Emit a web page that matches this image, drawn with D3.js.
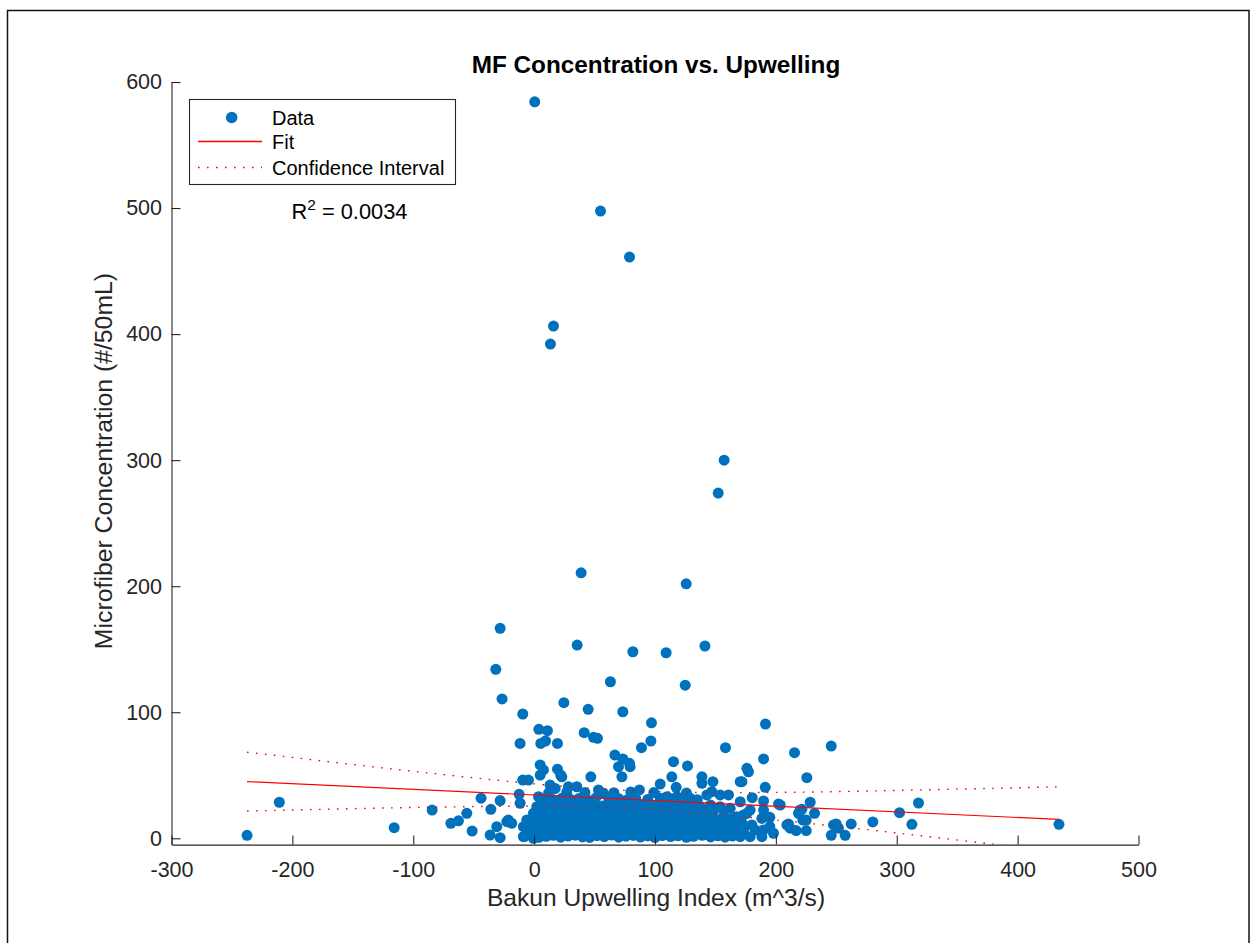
<!DOCTYPE html>
<html>
<head>
<meta charset="utf-8">
<script src="https://cdn.jsdelivr.net/npm/d3@7"></script>
<style>
  body { margin: 0; background: #fff; }
  text { font-family: "Liberation Sans", Arial, Helvetica, sans-serif; fill: #000; }
</style>
</head>
<body>
<svg id="chart" width="1254" height="943"></svg>
<script>
// ---- axis ticks ----
const xTicks = [-300, -200, -100, 0, 100, 200, 300, 400, 500];
const xTickLabels = ["-300", "-200", "-100", "0", "100", "200", "300", "400", "500"];
const yTicks = [0, 100, 200, 300, 400, 500, 600];
const yTickLabels = ["0", "100", "200", "300", "400", "500", "600"];

// ---- observations: [upwelling index, microfiber concentration] ----
const highPoints = [
  [0.5, 584.3], [54.9, 497.6], [78.9, 461.1], [16, 406.4], [13.5, 392.1],
  [157.2, 300.0], [152.3, 273.9], [38.9, 210.6], [125.8, 201.9], [-28.1, 166.6],
  [35.6, 153.3], [81.7, 148.0], [109.2, 147.2], [141.3, 152.5], [-31.7, 134.1],
  [63.1, 124.2], [125, 121.5], [-26.5, 110.6], [24.6, 107.6], [-9.4, 98.6],
  [44.7, 102.3], [73.4, 100.4], [97.1, 91.6], [191.4, 90.6]
];
const midPoints = [
  [3.9, 86.5], [11, 85.4], [41.4, 83.8], [49.1, 80.1], [52.4, 79.3],
  [-11.6, 75.3], [5.5, 75.3], [9.4, 77.2], [19.3, 75.3], [88.8, 71.9],
  [96.6, 77.2], [158.3, 71.9], [189.8, 63.0], [5, 58.2], [7.7, 54.2],
  [66.8, 66.0], [73.4, 62.9], [78.9, 59.5], [79.4, 56.8], [69.8, 56.8],
  [72.6, 48.8], [115.3, 60.8], [126.9, 57.4], [19.3, 54.8], [22, 50.2],
  [46.9, 48.8], [113.9, 48.8], [176, 55.5], [177.3, 52.8], [171.9, 44.9],
  [191.2, 40.4], [138.8, 48.8], [147.9, 44.9], [104.3, 43.0], [117.5, 40.4],
  [87.1, 38.4], [-9.4, 46.2], [-4.7, 46.2], [215.4, 67.9], [245.8, 73.2],
  [225.6, 48.1], [138.8, 43.6], [170.5, 44.9], [5, 50.2], [22.9, 48.8],
  [13.2, 42.2], [17.4, 39.6], [28.4, 40.9], [35.3, 40.9], [53.2, 38.4], [57.4, 35.7]
];
const sidePoints = [
  [-43.9, 31.8], [-28.1, 29.9], [-35.8, 23.0], [-55.7, 19.8], [-62.6, 13.9],
  [-68.9, 11.9], [-51.3, 5.8], [-30.9, 9.2], [-36.4, 2.6], [-28.1, 0.5],
  [-21.3, 14.5], [-18.5, 11.9], [-237.5, 2.4], [-210.8, 28.6], [-115.8, 8.4],
  [-84.4, 22.4], [-12.4, 34.9], [-11.6, 27.8], [-22.6, 13.2], [-8.9, 9.2],
  [-3.3, 4], [-8.9, 1.3], [-0.6, 0], [-6.1, 14.5], [-0.6, 19.8], [2.2, 25.1], [3.6, 33.0],
  [202.2, 27.2], [209.1, 10.6], [228.4, 28.6], [232, 19.8], [221.5, 23.0],
  [218.7, 19.8], [222.3, 14.5], [225.1, 14.5], [210.4, 11.4], [211.8, 8],
  [216.8, 6.1], [225.1, 6.1], [203.6, 26.4], [249.9, 11.4], [251.8, 8],
  [245.8, 2.4], [257.3, 2.4], [262.3, 11.4], [280.2, 13], [302.3, 20.3],
  [318, 28.0], [312.5, 11.1], [434.2, 11.1], [180.4, 32.2], [189.8, 29.6],
  [170.5, 29.0], [178.7, 22.4], [176, 19.8], [189.8, 22.4], [188.4, 15.8],
  [195, 16.6], [220.1, 22.4], [247.7, 10.6], [173.2, 18.5], [171.9, 12],
  [173.2, 6.6], [170.5, 1.3], [180.1, 10.6], [182.9, 6.6], [178.7, 1.3],
  [189.8, 6.6], [188.4, 1.3], [195, 9.2], [198, 4]
];
const clusterPoints = [
  [104.3, 31.8], [109.8, 33.0], [118.1, 33.0], [129.1, 31.8], [123.5, 29.0],
  [142.9, 34.4], [147, 37.0], [153.9, 34.4], [160.8, 34.4], [137.4, 25.1],
  [142.9, 22.4], [138.8, 18.5], [153.9, 25.1], [162.2, 23.8], [167.7, 17.1],
  [91.8, 25.1], [97.4, 26.4], [101.5, 22.4]
];
const bandPoints = [
  [-8, 1.4], [-2, 2.2], [4, 0.8], [10, 1.6], [16, 2.4], [22, 0.9], [28, 1.8], [34, 2.5],
  [40, 1.1], [46, 0.7], [52, 2.1], [58, 1.3], [64, 2.6], [70, 0.9], [76, 1.7], [82, 2.3],
  [88, 1.0], [94, 1.9], [100, 0.6], [106, 2.2], [113, 1.4], [119, 2.0], [126, 0.8],
  [132, 1.6], [139, 2.4], [146, 1.1], [152, 2.0], [158, 0.9], [164, 1.8],
  [-5, 6.2], [1, 5.4], [7, 6.8], [13, 5.9], [19, 6.5], [25, 5.2], [31, 6.9], [37, 5.7],
  [43, 6.3], [49, 5.5], [55, 7.0], [61, 6.0], [67, 5.3], [73, 6.6], [79, 5.8], [85, 6.4],
  [91, 5.1], [97, 6.7], [103, 5.9], [110, 6.2], [116, 5.4], [122, 7.1], [129, 6.0],
  [135, 5.6], [142, 6.8], [149, 5.3], [156, 6.4], [162, 5.7], [167, 6.9],
  [-3, 11.2], [3, 10.5], [9, 11.8], [15, 10.9], [21, 11.5], [27, 10.2], [33, 12.0],
  [39, 11.1], [45, 10.6], [51, 11.9], [57, 10.8], [63, 11.4], [69, 10.3], [75, 12.1],
  [81, 11.0], [87, 10.7], [93, 11.6], [99, 10.4], [106, 11.3], [112, 12.0], [119, 10.8],
  [125, 11.5], [132, 10.5], [139, 11.8], [145, 10.9], [152, 11.4], [159, 10.6], [165, 11.9],
  [0, 16.3], [6, 15.6], [12, 16.9], [18, 15.8], [24, 16.5], [30, 15.4], [36, 17.0],
  [42, 16.1], [48, 15.7], [54, 16.8], [60, 15.5], [66, 16.4], [72, 15.9], [78, 17.1],
  [84, 16.0], [90, 15.6], [96, 16.7], [103, 15.8], [109, 16.5], [116, 15.3], [122, 16.9],
  [129, 16.2], [135, 15.7], [142, 16.6], [148, 15.9], [156, 16.3], [163, 15.5],
  [2, 21.3], [9, 20.6], [15, 21.9], [21, 20.8], [27, 21.5], [33, 20.4], [39, 22.0],
  [46, 21.1], [52, 20.7], [58, 21.8], [64, 20.5], [71, 21.4], [77, 20.9], [83, 22.1],
  [89, 21.0], [95, 20.6], [108, 21.6], [114, 20.8], [121, 21.9], [128, 20.5], [134, 21.3],
  [148, 20.7], [157, 21.5],
  [6, 26.2], [12, 25.5], [19, 26.8], [25, 25.7], [31, 26.4], [38, 25.3], [44, 26.9],
  [50, 26.0], [57, 25.6], [63, 26.7], [69, 25.4], [76, 26.3], [82, 25.8], [88, 26.6],
  [104, 25.9], [111, 26.5], [118, 25.2], [125, 26.1], [131, 25.7], [146, 26.4],
  [9, 31.2], [16, 30.6], [23, 31.8], [30, 30.9], [37, 31.5], [44, 30.4], [51, 31.9],
  [62, 30.7], [70, 31.4], [77, 30.5], [84, 31.6], [94, 30.8], [113, 31.3], [135, 30.6],
  [12, 36.1], [27, 36.7], [42, 36.4], [66, 36.2], [80, 36.8], [99, 36.3], [126, 35.9]
];

// ---- least-squares fit and its confidence band ----
const fitX = [-237.5, 434.2];
const fitY = [45.0, 15.0];
const ciX = [-237.5, -180, -120, -60, 0, 40, 80, 120, 160, 200, 260, 320, 380, 434.2];
const ciUpper = [68.3, 61.9, 55.3, 49.0, 43.2, 40.1, 37.8, 36.5, 36.2, 36.4, 37.2, 38.4, 39.6, 40.9];
const ciLower = [21.6, 22.9, 24.1, 25.0, 25.5, 25.1, 23.9, 21.6, 18.3, 14.5, 8.5, 2.0, -4.7, -10.8];

const rSquared = "0.0034";

// ---- drawing ----
const svg = d3.select("#chart");
const blue = "#0072BD";
const red = "#FF0000";
const axisColor = "#262626";

// outer figure frame
svg.append("rect")
  .attr("x", 7.5).attr("y", 10.5)
  .attr("width", 1241.5).attr("height", 960)
  .style("fill", "none").style("stroke", "#111").style("stroke-width", 1.5);

const x = d3.scaleLinear().domain([-300, 500]).range([171.5, 1138.5]);
const y = d3.scaleLinear().domain([-5, 600]).range([844.6, 82]);

svg.append("defs").append("clipPath").attr("id", "plotArea")
  .append("rect")
  .attr("x", x.range()[0]).attr("y", y.range()[1])
  .attr("width", x.range()[1] - x.range()[0])
  .attr("height", y.range()[0] - y.range()[1]);

// data markers
const allPoints = [].concat(highPoints, midPoints, sidePoints, clusterPoints, bandPoints);
svg.append("g").selectAll("circle")
  .data(allPoints)
  .join("circle")
  .attr("cx", d => x(d[0]))
  .attr("cy", d => y(d[1]))
  .attr("r", 5.5)
  .style("fill", blue);

// fit line and confidence bounds
const fitLine = d3.line().x(d => x(d[0])).y(d => y(d[1]));
const curveLine = d3.line().x(d => x(d[0])).y(d => y(d[1])).curve(d3.curveNatural);
const lines = svg.append("g").attr("clip-path", "url(#plotArea)");

lines.append("path")
  .datum(fitX.map((v, i) => [v, fitY[i]]))
  .attr("d", fitLine)
  .style("fill", "none").style("stroke", red).style("stroke-width", 1.2);

[ciUpper, ciLower].forEach(bound => {
  lines.append("path")
    .datum(ciX.map((v, i) => [v, bound[i]]))
    .attr("d", curveLine)
    .style("fill", "none").style("stroke", red).style("stroke-width", 1.4)
    .style("stroke-dasharray", "1.6,7.4");
});

// axes
const xAxis = d3.axisBottom(x)
  .tickValues(xTicks)
  .tickFormat((d, i) => xTickLabels[i])
  .tickSizeInner(-9).tickSizeOuter(0).tickPadding(17);
const yAxis = d3.axisLeft(y)
  .tickValues(yTicks)
  .tickFormat((d, i) => yTickLabels[i])
  .tickSizeInner(-9).tickSizeOuter(0).tickPadding(9.5);

const gx = svg.append("g").attr("transform", `translate(0,${y.range()[0]})`).call(xAxis);
const gy = svg.append("g").attr("transform", `translate(${x.range()[0]},0)`).call(yAxis);
[gx, gy].forEach(g => {
  g.select(".domain").attr("stroke", axisColor).attr("stroke-width", 1.1);
  g.selectAll(".tick line").attr("stroke", axisColor).attr("stroke-width", 1.1);
  g.selectAll(".tick text")
    .style("fill", axisColor)
    .style("font-family", '"Liberation Sans", Arial, sans-serif')
    .style("font-size", "21.5px");
});

// title and axis labels
svg.append("text")
  .attr("x", 656).attr("y", 73)
  .attr("text-anchor", "middle")
  .style("font-size", "24.3px").style("font-weight", "bold")
  .text("MF Concentration vs. Upwelling");

svg.append("text")
  .attr("x", 656).attr("y", 906)
  .attr("text-anchor", "middle")
  .style("font-size", "24.6px").style("fill", axisColor)
  .text("Bakun Upwelling Index (m^3/s)");

svg.append("text")
  .attr("transform", "translate(112,461) rotate(-90)")
  .attr("text-anchor", "middle")
  .style("font-size", "24.8px").style("fill", axisColor)
  .text("Microfiber Concentration (#/50mL)");

// legend
const legend = svg.append("g");
legend.append("rect")
  .attr("x", 189.5).attr("y", 99.5).attr("width", 266).attr("height", 85)
  .style("fill", "#fff").style("stroke", axisColor).style("stroke-width", 1.1);
legend.append("circle").attr("cx", 231.7).attr("cy", 117.5).attr("r", 5.8).style("fill", blue);
legend.append("line")
  .attr("x1", 198).attr("x2", 262).attr("y1", 141.5).attr("y2", 141.5)
  .style("stroke", red).style("stroke-width", 1.3);
legend.append("line")
  .attr("x1", 198).attr("x2", 262).attr("y1", 167.5).attr("y2", 167.5)
  .style("stroke", red).style("stroke-width", 1.4).style("stroke-dasharray", "1.6,7.4");
const legendLabels = ["Data", "Fit", "Confidence Interval"];
const legendRows = [117.5, 141.5, 167.5];
legend.selectAll("text.entry")
  .data(legendLabels)
  .join("text")
  .attr("class", "entry")
  .attr("x", 272)
  .attr("y", (d, i) => legendRows[i])
  .attr("dy", "0.35em")
  .style("font-size", "20px")
  .text(d => d);

// R-squared annotation
const r2 = svg.append("text").attr("x", 291.5).attr("y", 219).style("font-size", "21.8px");
r2.append("tspan").text("R");
r2.append("tspan").attr("dy", -9).style("font-size", "15.5px").text("2");
r2.append("tspan").attr("dy", 9).text(" = " + rSquared);
</script>
</body>
</html>
